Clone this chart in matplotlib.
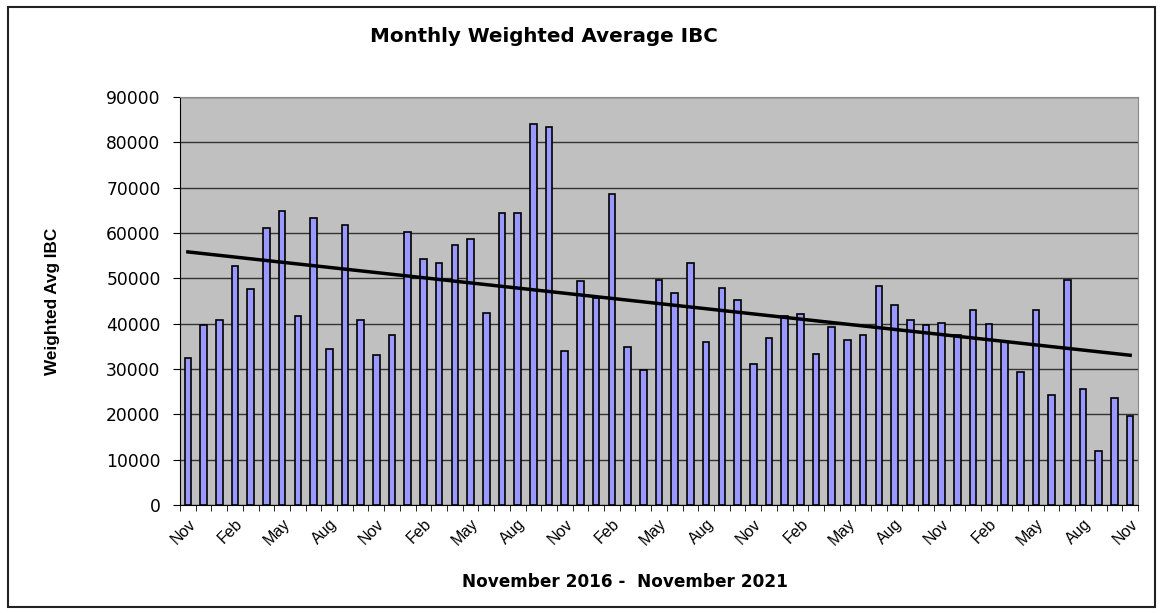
import matplotlib.pyplot as plt
import numpy as np

# monthly weighted average IBC, Nov 2016 .. Nov 2021
month_names = ['Nov', 'Dec', 'Jan', 'Feb', 'Mar', 'Apr', 'May', 'Jun',
               'Jul', 'Aug', 'Sep', 'Oct']
ibc_values = [
    32400, 39700, 40900, 52800, 47600, 61200, 64800, 41700, 63300, 34500, 61800, 40700,
    33000, 37500, 60300, 54200, 53400, 57300, 58700, 42300, 64500, 64500, 84100, 83400,
    33900, 49500, 45600, 68700, 34900, 29800, 49700, 46700, 53400, 35900, 47900, 45200,
    31100, 36900, 41700, 42200, 33300, 39200, 36400, 37500, 48200, 44100, 40700, 39700,
    40200, 37400, 43000, 39900, 36000, 29300, 43100, 24300, 49600, 25600, 11900, 23500,
    19600,
]

tick_labels = [month_names[i % 12] for i in range(len(ibc_values))]

plt.rcParams['font.family'] = ['Liberation Sans', 'DejaVu Sans']

fig = plt.figure(figsize=(11.63, 6.13), dpi=100)
fig.patches.append(plt.Rectangle((0.007, 0.01), 0.986, 0.978, transform=fig.transFigure,
                                 fill=False, edgecolor='#222222', linewidth=1.5))
ax = fig.add_axes([0.1548, 0.1762, 0.8237, 0.6656])

x = np.arange(len(ibc_values))
ax.set_facecolor('#C0C0C0')
ax.bar(x, ibc_values, width=0.42, color='#9999FF', edgecolor='black', linewidth=1.2, zorder=3)

# linear trend line like the spreadsheet one
slope, intercept = np.polyfit(x, ibc_values, 1)
ax.plot(x, slope * x + intercept, color='black', linewidth=2.5, zorder=4)

ax.set_ylim(0, 90000)
ax.set_xlim(-0.5, len(ibc_values) - 0.5)
ax.set_yticks(np.arange(0, 90001, 10000))
ax.yaxis.grid(True, color='#333333', linewidth=1, zorder=0)
ax.tick_params(axis='y', length=5, direction='out', pad=9)
for lbl in ax.get_yticklabels():
    lbl.set_fontfamily('DejaVu Sans')
    lbl.set_fontsize(12.3)

label_pos = x[::3]
ax.set_xticks(label_pos)
ax.set_xticklabels([tick_labels[i] for i in label_pos], rotation=45, ha='right',
                   rotation_mode='anchor', fontsize=11.5)
ax.set_xticks(np.arange(-0.5, len(ibc_values), 1), minor=True)
ax.tick_params(axis='x', which='major', length=0, pad=8)
ax.tick_params(axis='x', which='minor', length=4, direction='out')

for side in ['top', 'right']:
    ax.spines[side].set_color('#888888')
ax.spines['left'].set_color('black')
ax.spines['bottom'].set_color('black')

fig.text(0.468, 0.94, 'Monthly Weighted Average IBC', ha='center', va='center',
         fontsize=14.3, fontweight='bold', family=['DejaVu Sans'])
fig.text(0.045, 0.509, 'Weighted Avg IBC', ha='center', va='center', rotation=90,
         fontsize=12.3, fontweight='bold', family=['Liberation Sans Narrow', 'Liberation Sans'])
fig.text(0.537, 0.051, 'November 2016 -  November 2021', ha='center', va='center',
         fontsize=12.2, fontweight='bold', family=['DejaVu Sans'])

plt.savefig('out.png', dpi=100)
